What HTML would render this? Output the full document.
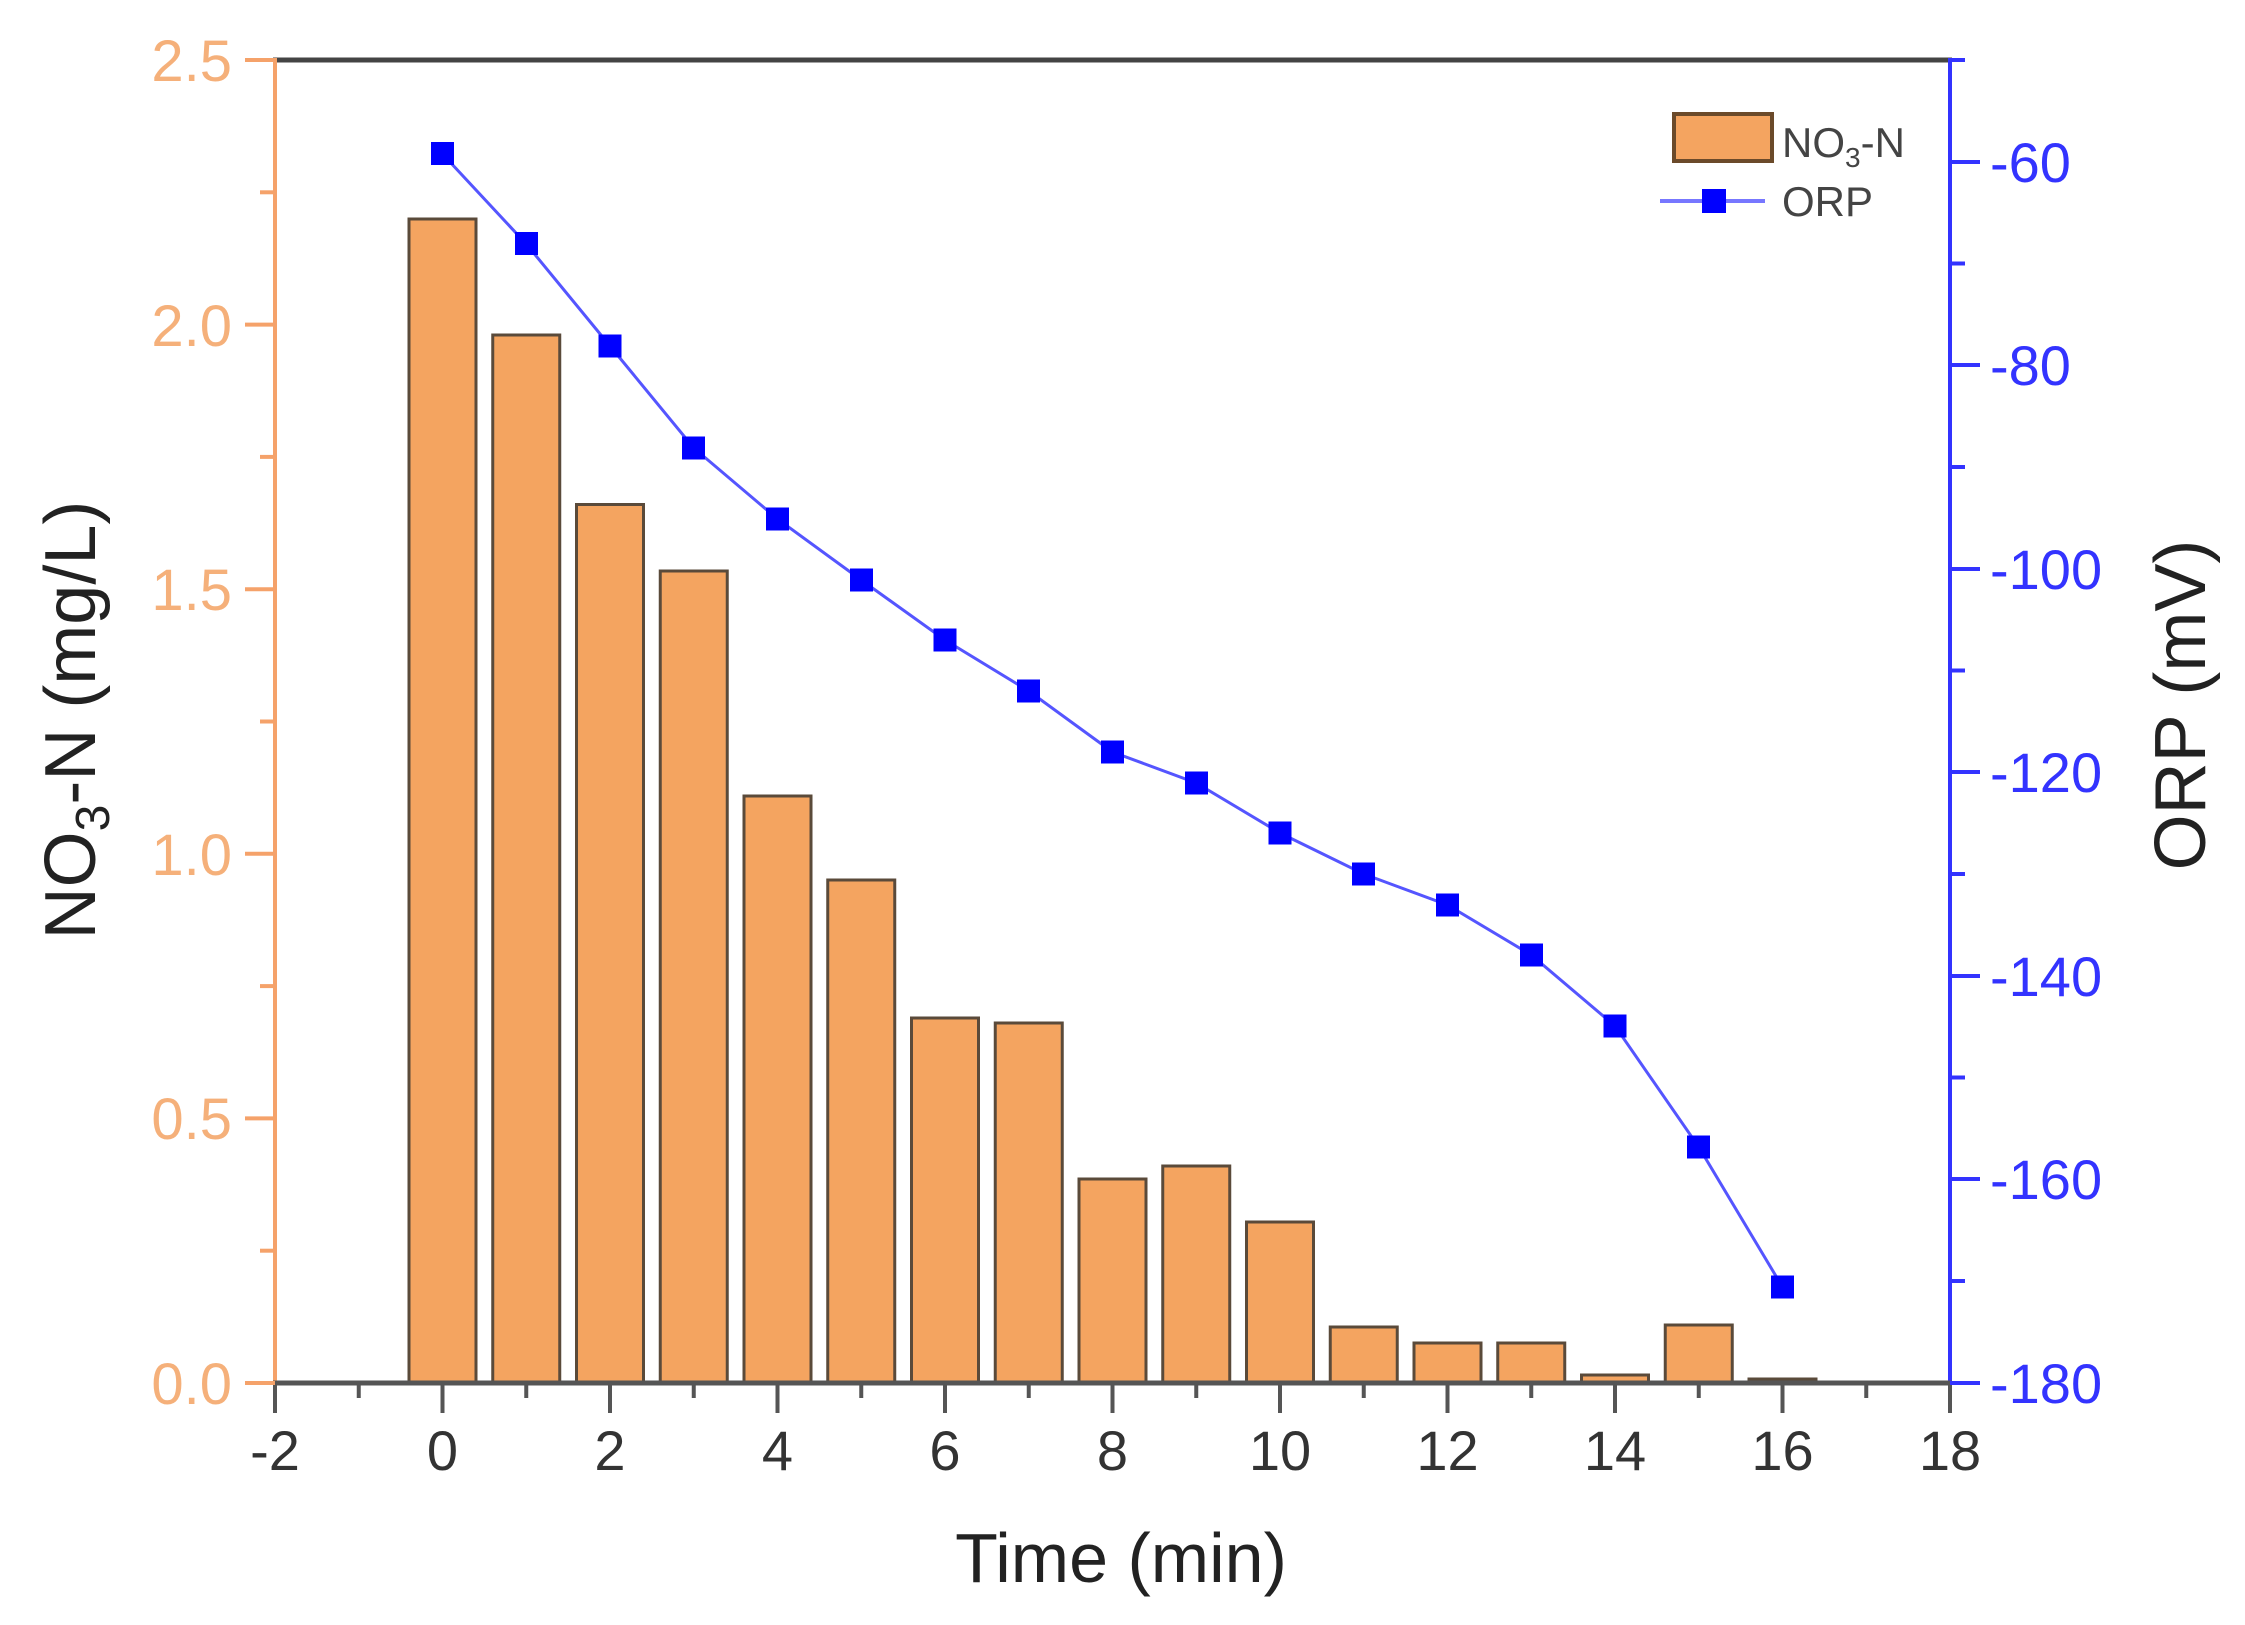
<!DOCTYPE html>
<html><head><meta charset="utf-8"><style>
html,body{margin:0;padding:0;background:#fff;}
svg{display:block;font-family:"Liberation Sans",sans-serif;}
</style></head><body>
<svg width="2245" height="1625" viewBox="0 0 2245 1625" xmlns="http://www.w3.org/2000/svg">
<rect width="2245" height="1625" fill="#fff"/>
<!-- bars -->
<g fill="#F4A460" stroke="#5a4a3a" stroke-width="3">
<rect x="409" y="219" width="67" height="1164"/>
<rect x="492.75" y="335" width="67" height="1048"/>
<rect x="576.5" y="504.5" width="67" height="878.5"/>
<rect x="660.25" y="571" width="67" height="812"/>
<rect x="744" y="796" width="67" height="587"/>
<rect x="827.75" y="880" width="67" height="503"/>
<rect x="911.5" y="1018" width="67" height="365"/>
<rect x="995.25" y="1023" width="67" height="360"/>
<rect x="1079" y="1179" width="67" height="204"/>
<rect x="1162.75" y="1166" width="67" height="217"/>
<rect x="1246.5" y="1222" width="67" height="161"/>
<rect x="1330.25" y="1327" width="67" height="56"/>
<rect x="1414" y="1343" width="67" height="40"/>
<rect x="1497.75" y="1343" width="67" height="40"/>
<rect x="1581.5" y="1375" width="67" height="8"/>
<rect x="1665.25" y="1325" width="67" height="58"/>
<rect x="1749" y="1379" width="67" height="4"/>
</g>
<!-- axes -->
<line x1="273" y1="60" x2="1952" y2="60" stroke="#444" stroke-width="5"/>
<line x1="275" y1="58" x2="275" y2="1385" stroke="#F5A26A" stroke-width="4"/>
<line x1="1950" y1="58" x2="1950" y2="1385" stroke="#3333ff" stroke-width="4"/>
<line x1="273" y1="1383" x2="1952" y2="1383" stroke="#555" stroke-width="5"/>
<!-- x ticks -->
<g stroke="#555" stroke-width="4">
<line x1="275" y1="1383" x2="275" y2="1413"/><line x1="442.5" y1="1383" x2="442.5" y2="1413"/><line x1="610" y1="1383" x2="610" y2="1413"/><line x1="777.5" y1="1383" x2="777.5" y2="1413"/><line x1="945" y1="1383" x2="945" y2="1413"/><line x1="1112.5" y1="1383" x2="1112.5" y2="1413"/><line x1="1280" y1="1383" x2="1280" y2="1413"/><line x1="1447.5" y1="1383" x2="1447.5" y2="1413"/><line x1="1615" y1="1383" x2="1615" y2="1413"/><line x1="1782.5" y1="1383" x2="1782.5" y2="1413"/><line x1="1950" y1="1383" x2="1950" y2="1413"/>
<line x1="358.75" y1="1383" x2="358.75" y2="1398"/><line x1="526.25" y1="1383" x2="526.25" y2="1398"/><line x1="693.75" y1="1383" x2="693.75" y2="1398"/><line x1="861.25" y1="1383" x2="861.25" y2="1398"/><line x1="1028.75" y1="1383" x2="1028.75" y2="1398"/><line x1="1196.25" y1="1383" x2="1196.25" y2="1398"/><line x1="1363.75" y1="1383" x2="1363.75" y2="1398"/><line x1="1531.25" y1="1383" x2="1531.25" y2="1398"/><line x1="1698.75" y1="1383" x2="1698.75" y2="1398"/><line x1="1866.25" y1="1383" x2="1866.25" y2="1398"/>
</g>
<g font-size="56" fill="#333" text-anchor="middle">
<text x="275" y="1470">-2</text><text x="442.5" y="1470">0</text><text x="610" y="1470">2</text><text x="777.5" y="1470">4</text><text x="945" y="1470">6</text><text x="1112.5" y="1470">8</text><text x="1280" y="1470">10</text><text x="1447.5" y="1470">12</text><text x="1615" y="1470">14</text><text x="1782.5" y="1470">16</text><text x="1950" y="1470">18</text>
</g>
<!-- left ticks -->
<g stroke="#F5A26A" stroke-width="4">
<line x1="245" y1="1383" x2="275" y2="1383"/><line x1="245" y1="1118.4" x2="275" y2="1118.4"/><line x1="245" y1="853.8" x2="275" y2="853.8"/><line x1="245" y1="589.2" x2="275" y2="589.2"/><line x1="245" y1="324.6" x2="275" y2="324.6"/><line x1="245" y1="60" x2="275" y2="60"/>
<line x1="260" y1="1250.7" x2="275" y2="1250.7"/><line x1="260" y1="986.1" x2="275" y2="986.1"/><line x1="260" y1="721.5" x2="275" y2="721.5"/><line x1="260" y1="456.9" x2="275" y2="456.9"/><line x1="260" y1="192.3" x2="275" y2="192.3"/>
</g>
<g font-size="58" fill="#F5B07A" text-anchor="end">
<text x="232" y="1404">0.0</text><text x="232" y="1139">0.5</text><text x="232" y="875">1.0</text><text x="232" y="610">1.5</text><text x="232" y="346">2.0</text><text x="232" y="81">2.5</text>
</g>
<!-- right ticks -->
<g stroke="#3333ff" stroke-width="4">
<line x1="1950" y1="162" x2="1980" y2="162"/><line x1="1950" y1="365" x2="1980" y2="365"/><line x1="1950" y1="569" x2="1980" y2="569"/><line x1="1950" y1="772" x2="1980" y2="772"/><line x1="1950" y1="976" x2="1980" y2="976"/><line x1="1950" y1="1179" x2="1980" y2="1179"/><line x1="1950" y1="1383" x2="1980" y2="1383"/>
<line x1="1950" y1="263.5" x2="1965" y2="263.5"/><line x1="1950" y1="467" x2="1965" y2="467"/><line x1="1950" y1="670.5" x2="1965" y2="670.5"/><line x1="1950" y1="874" x2="1965" y2="874"/><line x1="1950" y1="1077.5" x2="1965" y2="1077.5"/><line x1="1950" y1="1281" x2="1965" y2="1281"/><line x1="1950" y1="60" x2="1965" y2="60"/>
</g>
<g font-size="56" fill="#3333ff">
<text x="1990" y="182">-60</text><text x="1990" y="385">-80</text><text x="1990" y="589">-100</text><text x="1990" y="792">-120</text><text x="1990" y="996">-140</text><text x="1990" y="1199">-160</text><text x="1990" y="1403">-180</text>
</g>
<!-- ORP line -->
<polyline fill="none" stroke="#5555ff" stroke-width="3" points="442.5,154 526.25,244 610,346 693.75,448 777.5,519 861.25,580 945,640 1028.75,691 1112.5,752 1196.25,783 1280,833 1363.75,874 1447.5,905 1531.25,955 1615,1026 1698.75,1147 1782.5,1287"/>
<g fill="#0000ff">
<rect x="431" y="142" width="23" height="23"/><rect x="515" y="232" width="23" height="23"/><rect x="598.5" y="334.5" width="23" height="23"/><rect x="682" y="436.5" width="23" height="23"/><rect x="766" y="507.5" width="23" height="23"/><rect x="850" y="568.5" width="23" height="23"/><rect x="933.5" y="628.5" width="23" height="23"/><rect x="1017" y="679.5" width="23" height="23"/><rect x="1101" y="740.5" width="23" height="23"/><rect x="1185" y="771.5" width="23" height="23"/><rect x="1268.5" y="821.5" width="23" height="23"/><rect x="1352" y="862.5" width="23" height="23"/><rect x="1436" y="893.5" width="23" height="23"/><rect x="1520" y="943.5" width="23" height="23"/><rect x="1603.5" y="1014.5" width="23" height="23"/><rect x="1687" y="1135.5" width="23" height="23"/><rect x="1771" y="1275.5" width="23" height="23"/>
</g>
<!-- legend -->
<rect x="1674" y="114" width="98" height="47" fill="#F4A460" stroke="#6b4a2a" stroke-width="4"/>
<text x="1782" y="157" font-size="42" fill="#444">NO<tspan font-size="28" dy="10">3</tspan><tspan dy="-10">-N</tspan></text>
<line x1="1660" y1="201" x2="1765" y2="201" stroke="#7777ff" stroke-width="4"/>
<rect x="1702" y="189" width="24" height="24" fill="#0000ff"/>
<text x="1782" y="216" font-size="42" fill="#444">ORP</text>
<!-- axis titles -->
<text x="1121" y="1582" font-size="70" fill="#222" text-anchor="middle">Time (min)</text>
<text transform="translate(95,720) rotate(-90)" font-size="72" fill="#222" text-anchor="middle">NO<tspan font-size="48" dy="14">3</tspan><tspan dy="-14">-N (mg/L)</tspan></text>
<text transform="translate(2205,705) rotate(-90)" font-size="72" fill="#222" text-anchor="middle">ORP (mV)</text>
</svg>
</body></html>
